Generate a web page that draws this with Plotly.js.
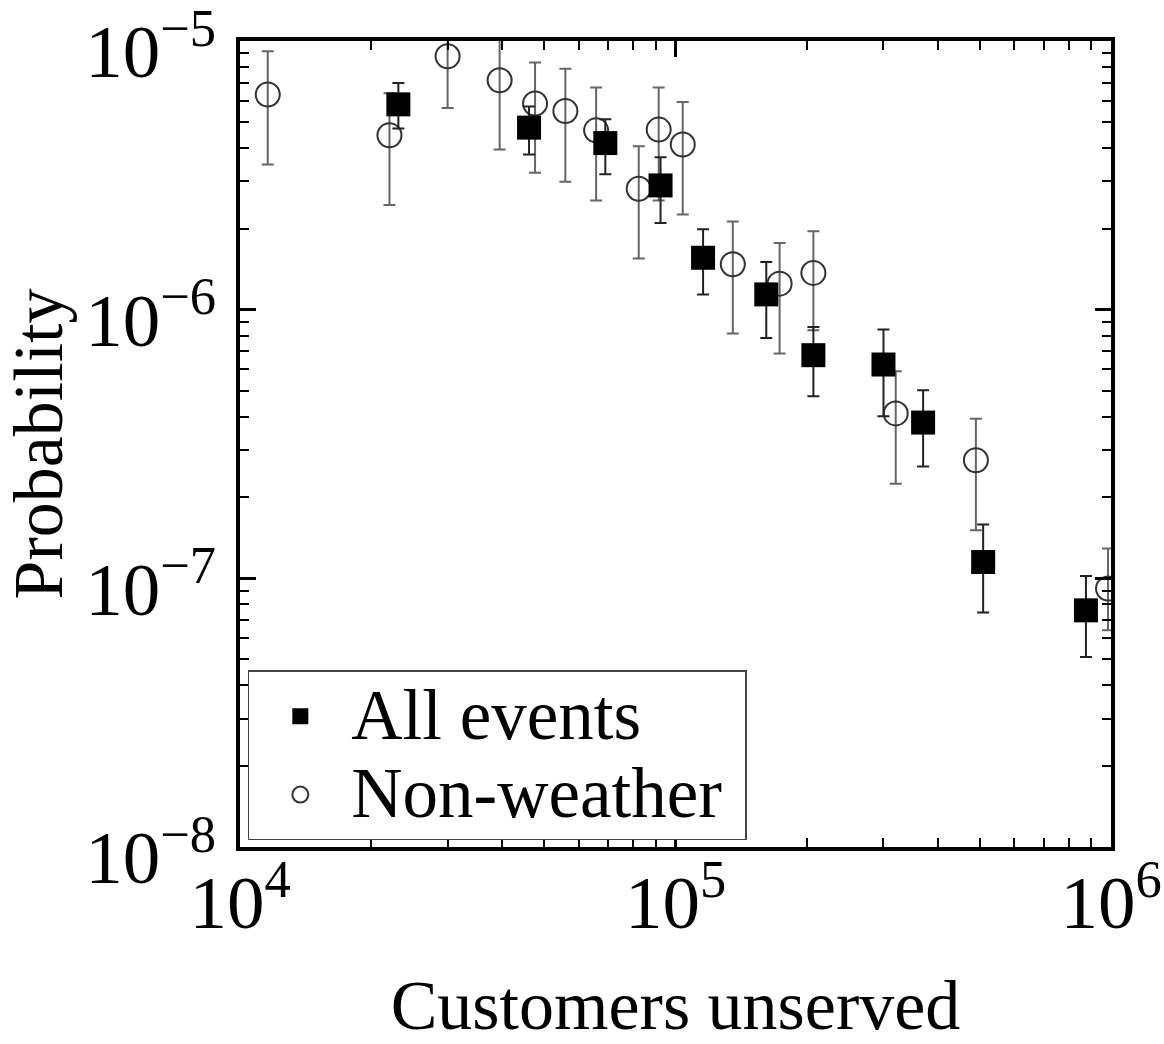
<!DOCTYPE html>
<html>
<head>
<meta charset="utf-8">
<script src="https://cdn.plot.ly/plotly-3.0.1.min.js"></script>
<style>
html,body{margin:0;padding:0;background:#fff;}
#chart{width:1164px;height:1044px;}
</style>
</head>
<body>
<div id="chart"></div>
<script>
// All events (filled squares)
const allX  = [23100, 46100, 69000, 92400, 115700, 161600, 207300, 300300, 370300, 508700, 876000];
const allY  = [5.81e-6, 4.76e-6, 4.17e-6, 2.90e-6, 1.56e-6, 1.14e-6, 6.77e-7, 6.25e-7, 3.80e-7, 1.15e-7, 7.6e-8];
const allHi = [6.98e-6, 5.71e-6, 5.11e-6, 3.69e-6, 1.99e-6, 1.505e-6, 8.62e-7, 8.43e-7, 5.01e-7, 1.585e-7, 1.02e-7];
const allLo = [4.72e-6, 3.78e-6, 3.19e-6, 2.10e-6, 1.14e-6, 7.85e-7, 4.76e-7, 4.01e-7, 2.61e-7, 7.46e-8, 5.10e-8];

// Non-weather (open circles)
const nwX  = [11580, 22040, 29970, 39460, 47590, 55860, 65720, 82330, 91500, 103900, 135400, 173400, 207300, 320400, 489500, 984300];
const nwY  = [6.32e-6, 4.46e-6, 8.77e-6, 7.14e-6, 5.85e-6, 5.49e-6, 4.65e-6, 2.82e-6, 4.68e-6, 4.12e-6, 1.476e-6, 1.25e-6, 1.37e-6, 4.11e-7, 2.75e-7, 9.16e-8];
const nwHi = [9.16e-6, 6.39e-6, 1.1e-5, 1.2e-5, 8.31e-6, 7.89e-6, 6.71e-6, 4.06e-6, 6.71e-6, 5.93e-6, 2.13e-6, 1.77e-6, 1.96e-6, 5.90e-7, 3.93e-7, 1.29e-7];
const nwLo = [3.47e-6, 2.45e-6, 5.63e-6, 3.95e-6, 3.23e-6, 2.99e-6, 2.55e-6, 1.549e-6, 2.55e-6, 2.26e-6, 8.15e-7, 6.87e-7, 8.38e-7, 2.25e-7, 1.51e-7, 6.41e-8];

const seriesNames = ["All events", "Non-weather"];
const xTitle = "Customers unserved";
const yTitle = "Probability";

const plus = (hi, y) => hi.map((h, i) => h - y[i]);
const minus = (lo, y) => lo.map((l, i) => y[i] - l);
const bigName = s => '<span style="font-size:71px">' + s + '\u00a0</span>';

const FONT = "Liberation Serif, Times New Roman, serif";

const nwTrace = {
  x: nwX, y: nwY, type: "scatter", mode: "markers", name: bigName(seriesNames[1]),
  legendrank: 2,
  marker: {symbol: "circle-open", size: 24, color: "#333", line: {width: 2, color: "#333"}},
  error_y: {type: "data", symmetric: false, array: plus(nwHi, nwY), arrayminus: minus(nwLo, nwY),
            color: "#666", thickness: 2, width: 6}
};
const allTrace = {
  x: allX, y: allY, type: "scatter", mode: "markers", name: bigName(seriesNames[0]),
  legendrank: 1,
  marker: {symbol: "square", size: 24, color: "#000"},
  error_y: {type: "data", symmetric: false, array: plus(allHi, allY), arrayminus: minus(allLo, allY),
            color: "#222", thickness: 2, width: 6}
};

const axisCommon = {
  type: "log", showgrid: false, zeroline: false,
  showline: true, linecolor: "#000", linewidth: 4, mirror: "allticks",
  ticks: "inside", ticklen: 16, tickwidth: 3, tickcolor: "#000",
  dtick: 1, exponentformat: "power", showexponent: "all",
  ticklabeloverflow: "allow",
  tickfont: {family: FONT, size: 60, color: "#000"},
  minor: {ticks: "inside", ticklen: 9, tickwidth: 2, tickcolor: "#000", dtick: "D1", showgrid: false}
};

const layout = {
  width: 1164, height: 1044,
  margin: {l: 240, r: 53, t: 41, b: 197},
  paper_bgcolor: "#fff", plot_bgcolor: "#fff",
  font: {family: FONT, color: "#000"},
  showlegend: true,
  legend: {x: 0.009, y: 0.219, xanchor: "left", yanchor: "top",
           bgcolor: "#fff", bordercolor: "#444", borderwidth: 1.5,
           itemwidth: 92,
           font: {family: FONT, size: 58, color: "#000"}, tracegroupgap: 0},
  xaxis: Object.assign({}, axisCommon, {range: [4, 6], ticklabelstandoff: -10,
           title: {text: xTitle, font: {family: FONT, size: 70, color: "#000"}, standoff: 44}}),
  yaxis: Object.assign({}, axisCommon, {range: [-8, -5], ticklabelstandoff: 8, ticklabelshift: 10,
           title: {text: yTitle, font: {family: FONT, size: 70, color: "#000"}, standoff: 15}})
};

Plotly.newPlot("chart", [nwTrace, allTrace], layout, {displayModeBar: false, staticPlot: true});
</script>
</body>
</html>
